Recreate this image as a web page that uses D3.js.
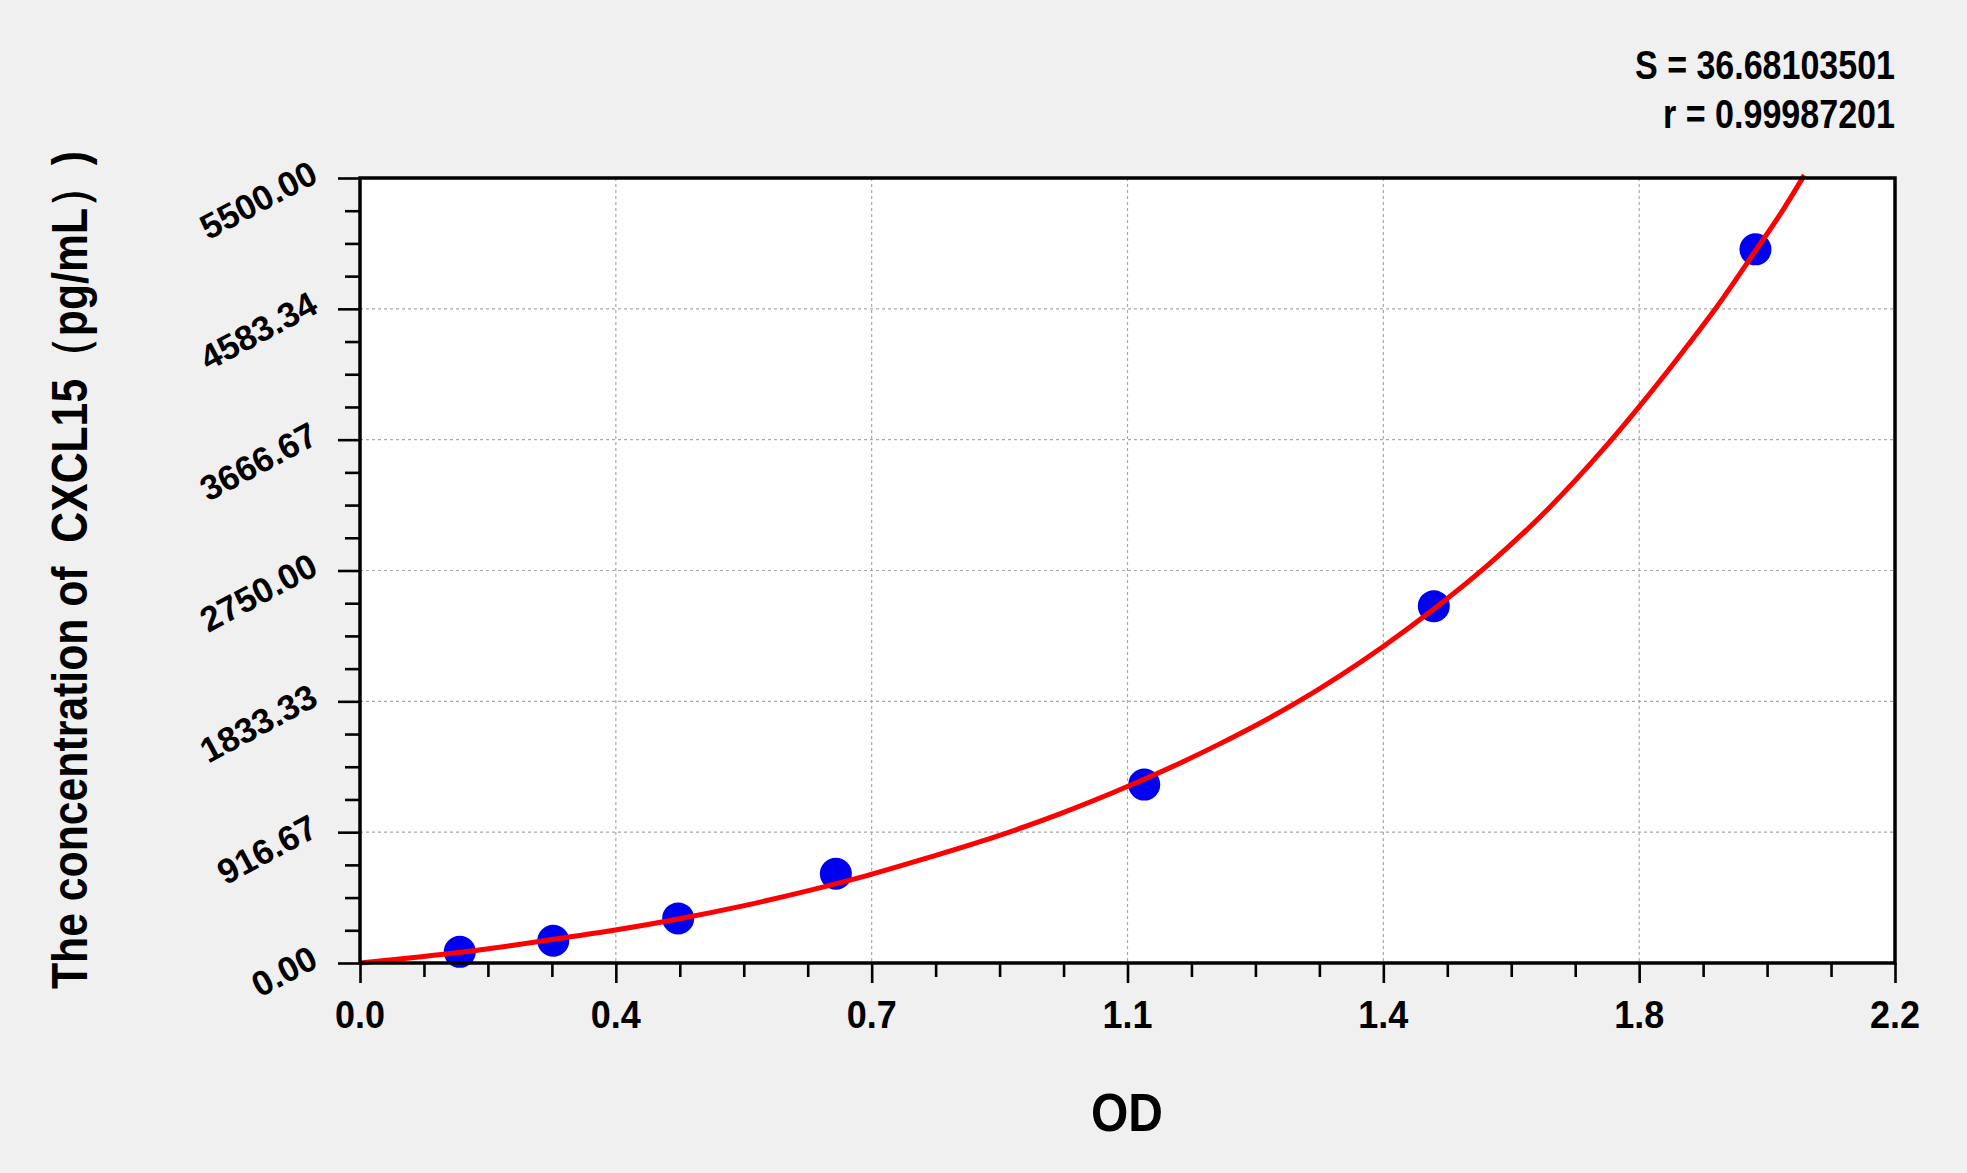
<!DOCTYPE html>
<html>
<head>
<meta charset="utf-8">
<script src="https://cdn.jsdelivr.net/npm/d3@7"></script>
<style>
  html, body { margin: 0; padding: 0; background: #f0f0f0; }
  svg { display: block; }
  text { font-family: "Liberation Sans", Arial, sans-serif; font-weight: bold; fill: #000; }
</style>
</head>
<body>
<svg id="canvas"></svg>
<script>
// standards (OD vs concentration)
const pointOD = [0.143, 0.277, 0.456, 0.682, 1.124, 1.539, 2.0];
const pointConc = [78.125, 156.25, 312.5, 625, 1250, 2500, 5000];

// fitted curve
const curveOD = [0, 0.088, 0.182, 0.271, 0.366, 0.456, 0.549, 0.637, 0.717, 0.812, 0.908, 1.003, 1.099, 1.175, 1.23, 1.339, 1.466, 1.539, 1.614, 1.706, 1.782, 1.832, 1.897, 1.945, 2.0, 2.04, 2.07];
const curveConc = [0, 44, 98, 161, 231, 308, 400, 500, 600, 735, 880, 1045, 1235, 1400, 1530, 1815, 2216, 2480, 2777, 3197, 3600, 3890, 4290, 4600, 4990, 5280, 5520];

const xTickLabels = ["0.0", "0.4", "0.7", "1.1", "1.4", "1.8", "2.2"];
const yTickLabels = ["0.00", "916.67", "1833.33", "2750.00", "3666.67", "4583.34", "5500.00"];

const fitText = ["S = 36.68103501", "r = 0.99987201"];
const xTitle = "OD";
const yTitle = "The concentration of \u00a0CXCL15（pg/mL）)";

function getChartConfig() {
  let canvasWidth = 1967,
    canvasHeight = 1173;
  let plot = { left: 360, right: 1895, top: 178, bottom: 963 };
  let svg = d3.select("#canvas");
  svg.attr("width", canvasWidth).attr("height", canvasHeight);
  return { canvasWidth, canvasHeight, plot, svg };
}

function getChartScales(config) {
  let { plot } = config;
  let xMax = 2.2, yMax = 5500;
  let xScale = d3.scaleLinear().domain([0, xMax]).range([plot.left, plot.right]);
  let yScale = d3.scaleLinear().domain([0, yMax]).range([plot.bottom, plot.top]);
  return { xScale, yScale, xMax, yMax };
}

function drawFrame(scales, config) {
  let { svg, plot } = config;
  let { xScale, yScale, xMax } = scales;

  svg.append("rect")
    .attr("x", 0).attr("y", 0)
    .attr("width", config.canvasWidth).attr("height", config.canvasHeight)
    .attr("fill", "#f0f0f0");

  svg.append("rect")
    .attr("x", plot.left).attr("y", plot.top)
    .attr("width", plot.right - plot.left)
    .attr("height", plot.bottom - plot.top)
    .attr("fill", "#ffffff");

  let xMajor = d3.range(xTickLabels.length).map((i) => (i * xMax) / (xTickLabels.length - 1));
  let yMajor = yTickLabels.map((d) => +d);

  // grid
  let grid = svg.append("g").attr("id", "grid");
  grid.selectAll(".gx")
    .data(xMajor.slice(1, -1))
    .enter()
    .append("line")
    .attr("x1", (d) => xScale(d)).attr("x2", (d) => xScale(d))
    .attr("y1", plot.top).attr("y2", plot.bottom)
    .attr("stroke", "#a8a8a8").attr("stroke-width", 1.2)
    .attr("stroke-dasharray", "3,3");
  grid.selectAll(".gy")
    .data(yMajor.slice(1, -1))
    .enter()
    .append("line")
    .attr("x1", plot.left).attr("x2", plot.right)
    .attr("y1", (d) => yScale(d)).attr("y2", (d) => yScale(d))
    .attr("stroke", "#a8a8a8").attr("stroke-width", 1.2)
    .attr("stroke-dasharray", "3,3");

  return { xMajor, yMajor };
}

function drawAxes(scales, config, majors) {
  let { svg, plot } = config;
  let { xScale, yScale } = scales;
  let { xMajor, yMajor } = majors;

  let xMinor = [];
  for (let i = 0; i < xMajor.length - 1; i++) {
    let step = (xMajor[i + 1] - xMajor[i]) / 4;
    for (let k = 1; k < 4; k++) xMinor.push(xMajor[i] + k * step);
  }
  let yMinor = [];
  for (let i = 0; i < yMajor.length - 1; i++) {
    let step = (yMajor[i + 1] - yMajor[i]) / 4;
    for (let k = 1; k < 4; k++) yMinor.push(yMajor[i] + k * step);
  }

  let styleAxis = (g) => {
    g.select(".domain").remove();
    g.selectAll(".tick line").attr("stroke", "#000").attr("stroke-width", 2.6);
  };

  svg.append("g")
    .attr("transform", `translate(0,${plot.bottom})`)
    .call(d3.axisBottom(xScale).tickValues(xMajor).tickSize(20).tickFormat(""))
    .call(styleAxis);
  svg.append("g")
    .attr("transform", `translate(0,${plot.bottom})`)
    .call(d3.axisBottom(xScale).tickValues(xMinor).tickSize(14).tickFormat(""))
    .call(styleAxis);
  svg.append("g")
    .attr("transform", `translate(${plot.left},0)`)
    .call(d3.axisLeft(yScale).tickValues(yMajor).tickSize(22).tickFormat(""))
    .call(styleAxis);
  svg.append("g")
    .attr("transform", `translate(${plot.left},0)`)
    .call(d3.axisLeft(yScale).tickValues(yMinor).tickSize(15).tickFormat(""))
    .call(styleAxis);

  // x tick labels
  svg.append("g")
    .selectAll("text")
    .data(xMajor)
    .enter()
    .append("text")
    .attr("x", (d) => xScale(d))
    .attr("y", plot.bottom + 65)
    .attr("text-anchor", "middle")
    .style("font-size", "38px")
    .attr("textLength", 50)
    .attr("lengthAdjust", "spacingAndGlyphs")
    .text((d, i) => xTickLabels[i]);

  // y tick labels, rotated
  svg.append("g")
    .selectAll("text")
    .data(yMajor)
    .enter()
    .append("text")
    .attr("transform", (d) => `translate(${plot.left - 40},${yScale(d) + 3}) rotate(-28)`)
    .attr("text-anchor", "end")
    .style("font-size", "35px")
    .text((d, i) => yTickLabels[i]);

  // frame
  svg.append("rect")
    .attr("x", plot.left).attr("y", plot.top)
    .attr("width", plot.right - plot.left)
    .attr("height", plot.bottom - plot.top)
    .attr("fill", "none")
    .attr("stroke", "#000")
    .attr("stroke-width", 3.5);

  // titles
  svg.append("text")
    .attr("x", 1127).attr("y", 1131)
    .attr("text-anchor", "middle")
    .style("font-size", "53px")
    .attr("textLength", 72)
    .attr("lengthAdjust", "spacingAndGlyphs")
    .text(xTitle);

  svg.append("text")
    .attr("transform", "translate(87,570) rotate(-90)")
    .attr("text-anchor", "middle")
    .style("font-size", "50px")
    .attr("textLength", 838)
    .attr("lengthAdjust", "spacingAndGlyphs")
    .text(yTitle);

  svg.append("g")
    .selectAll("text")
    .data(fitText)
    .enter()
    .append("text")
    .attr("x", plot.right)
    .attr("y", (d, i) => 79 + i * 49)
    .attr("text-anchor", "end")
    .style("font-size", "40px")
    .attr("textLength", (d, i) => (i === 0 ? 260 : 232))
    .attr("lengthAdjust", "spacingAndGlyphs")
    .text((d) => d);
}

function drawChart(scales, config) {
  let { svg } = config;
  let { xScale, yScale } = scales;

  svg.append("g")
    .selectAll("circle")
    .data(pointOD)
    .enter()
    .append("circle")
    .attr("cx", (d) => xScale(d))
    .attr("cy", (d, i) => yScale(pointConc[i]))
    .attr("r", 16)
    .attr("fill", "#0000f0");

  const lineGen = d3.line()
    .x((d) => xScale(d[0]))
    .y((d) => yScale(d[1]))
    .curve(d3.curveMonotoneX);

  svg.append("path")
    .datum(curveOD.map((d, i) => [d, curveConc[i]]))
    .attr("fill", "none")
    .attr("stroke", "#ff0000")
    .attr("stroke-width", 5)
    .attr("stroke-linejoin", "round")
    .attr("d", lineGen);
}

function showData() {
  let config = getChartConfig();
  let scales = getChartScales(config);
  let majors = drawFrame(scales, config);
  drawChart(scales, config);
  drawAxes(scales, config, majors);
}

showData();
</script>
</body>
</html>
